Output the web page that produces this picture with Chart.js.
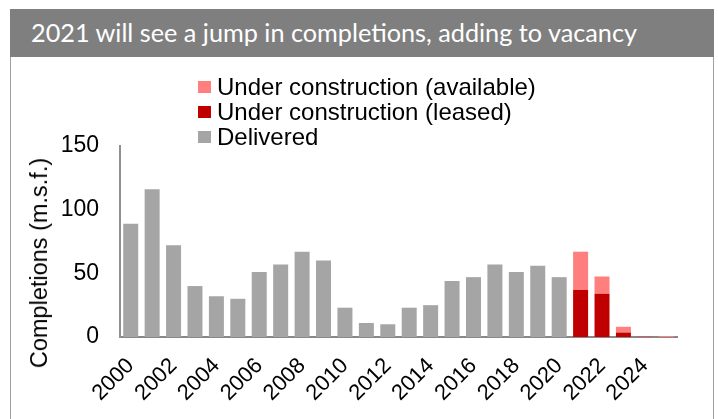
<!DOCTYPE html>
<html>
<head>
<meta charset="utf-8">
<script src="https://cdn.jsdelivr.net/npm/chart.js@4/dist/chart.umd.min.js"></script>
<style>
  html, body { margin: 0; padding: 0; background: #fff; width: 718px; height: 419px; overflow: hidden; }
  #frame { position: absolute; left: 10px; top: 57px; width: 704px; height: 370px; border-left: 1px solid #a0a0a0; border-right: 1px solid #a0a0a0; box-sizing: border-box; }
  #header { position: absolute; left: 10px; top: 9px; width: 704px; height: 48px; background: #7f7f7f; overflow: hidden; }
  #headerText { position: absolute; left: 21px; top: 8px; color: #fff; font-family: Lato, "Open Sans", sans-serif; font-size: 25px; white-space: nowrap; transform-origin: 0 0; line-height: 30px; }
  #c { position: absolute; left: 0; top: 0; }
  #ytitle { position: absolute; font-family: "Liberation Sans", Arial, sans-serif; font-size: 23.5px; color: #000; white-space: nowrap; transform: translate(-50%, -50%) rotate(-90deg); left: 39px; top: 263px; line-height: 28px; }
  #legend { position: absolute; left: 198px; top: 74px; font-family: "Liberation Sans", Arial, sans-serif; font-size: 24px; color: #000; }
  .li { position: relative; height: 25px; line-height: 25px; white-space: nowrap; }
  .sw { position: absolute; left: 0; top: 7px; width: 13px; height: 12px; }
  .lt { position: absolute; left: 19px; top: 0; }
</style>
</head>
<body>
<div id="frame"></div>
<canvas id="c" width="718" height="419"></canvas>
<div id="header"><span id="headerText">2021 will see a jump in completions, adding to vacancy</span></div>
<div id="ytitle">Completions (m.s.f.)</div>
<div id="legend"></div>
<script>
const categories = ['2000','2001','2002','2003','2004','2005','2006','2007','2008','2009','2010','2011','2012','2013','2014','2015','2016','2017','2018','2019','2020','2021','2022','2023','2024','2025'];
const delivered = [89,116,72,40,32,30,51,57,67,60,23,11,10,23,25,44,47,57,51,56,47,null,null,null,null,null];
const leased    = [null,null,null,null,null,null,null,null,null,null,null,null,null,null,null,null,null,null,null,null,null,37,34,3.5,0.2,0];
const available = [null,null,null,null,null,null,null,null,null,null,null,null,null,null,null,null,null,null,null,null,null,30,13.5,4.5,0.5,0.8];
const yTicks = [0,50,100,150];
const seriesNames = ['Delivered','Under construction (leased)','Under construction (available)'];
const seriesColors = ['#a5a5a5','#c00000','#ff7f7f'];

// header text width fit
const ht = document.getElementById('headerText');
const w = ht.getBoundingClientRect().width;
ht.style.transform = 'scaleX(' + (606 / w) + ')';

const datasets = [delivered, leased, available].map((d, i) => ({
  label: seriesNames[i],
  data: d,
  backgroundColor: seriesColors[i],
  borderWidth: 0,
  categoryPercentage: 1.0,
  barPercentage: 0.7,
  stack: 's'
}));

const chart = new Chart(document.getElementById('c'), {
  type: 'bar',
  data: { labels: categories, datasets: datasets },
  options: {
    responsive: false,
    animation: false,
    devicePixelRatio: 1,
    layout: { padding: { left: 20, right: 41, top: 146, bottom: 0 } },
    plugins: { legend: { display: false }, tooltip: { enabled: false } },
    scales: {
      x: {
        stacked: true,
        grid: { display: false, drawTicks: false },
        border: { display: true, color: '#888888', width: 2 },
        ticks: {
          autoSkip: false,
          minRotation: 45,
          maxRotation: 45,
          padding: 16,
          labelOffset: 0,
          color: '#000',
          font: { family: '"Liberation Sans", Arial, sans-serif', size: 22 },
          callback: function(v, i) { const l = categories[i]; return (parseInt(l) % 2 === 0) ? l : ''; }
        },
        afterFit: function(s) { s.height = 82; }
      },
      y: {
        stacked: true,
        min: 0,
        max: 150,
        grid: { display: false, drawTicks: false },
        border: { display: true, color: '#909090', width: 2 },
        afterBuildTicks: function(s) { s.ticks = yTicks.map(v => ({ value: v })); },
        ticks: {
          padding: 21,
          color: '#000',
          font: { family: '"Liberation Sans", Arial, sans-serif', size: 23 }
        },
        afterFit: function(s) { s.width = 100; }
      }
    }
  }
});

// legend from datasets (top = last dataset)
const lg = document.getElementById('legend');
for (let i = datasets.length - 1; i >= 0; i--) {
  const row = document.createElement('div');
  row.className = 'li';
  const sw = document.createElement('span');
  sw.className = 'sw';
  sw.style.background = datasets[i].backgroundColor;
  const t = document.createElement('span');
  t.className = 'lt';
  t.textContent = datasets[i].label;
  row.appendChild(sw); row.appendChild(t);
  lg.appendChild(row);
}
</script>
</body>
</html>
